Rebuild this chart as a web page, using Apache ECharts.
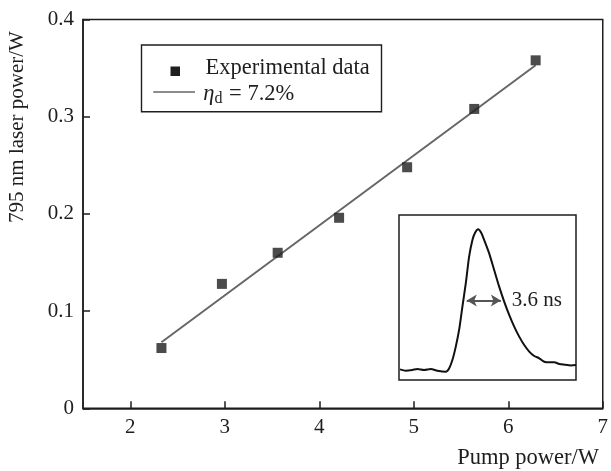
<!DOCTYPE html>
<html>
<head>
<meta charset="utf-8">
<script src="https://cdn.jsdelivr.net/npm/echarts@6/dist/echarts.min.js"></script>
<style>
  html, body { margin: 0; padding: 0; background: #fff; }
  #chart { width: 611px; height: 471px; }
</style>
</head>
<body>
<div id="chart"></div>
<script>
// Measured 795 nm output versus pump power
const pumpPower  = [2.33, 2.97, 3.56, 4.21, 4.93, 5.64, 6.29];
const laserPower = [0.062, 0.128, 0.160, 0.196, 0.248, 0.308, 0.358];

// Linear fit (slope efficiency 7.2%)
const fitPump  = [2.33, 6.29];
const fitLaser = [0.068, 0.353];

// Axis ticks
const xTickValues = [2, 3, 4, 5, 6, 7];
const yTickValues = [0, 0.1, 0.2, 0.3, 0.4];

// Inset: pulse trace (time in ns, normalised intensity)
const pulseTime = [0.11, 0.71, 1.41, 1.94, 2.65, 3.36, 4.06, 4.95, 5.30, 5.65, 6.01, 6.36, 6.71,
  7.07, 7.42, 7.77, 8.05, 8.37, 8.70, 9.01, 9.54, 10.07, 10.60, 11.13, 11.66, 12.19, 12.72,
  13.25, 13.78, 14.31, 14.84, 15.37, 15.90, 16.43, 16.96, 17.49, 18.20, 18.73];
const pulseLevel = [0.016, 0.007, 0.012, 0.019, 0.012, 0.019, 0.007, 0.000, 0.023, 0.082, 0.176,
  0.293, 0.457, 0.621, 0.808, 0.925, 0.975, 1.000, 0.975, 0.925, 0.831, 0.714, 0.597, 0.492,
  0.398, 0.316, 0.246, 0.187, 0.141, 0.110, 0.094, 0.070, 0.066, 0.066, 0.054, 0.049, 0.044, 0.047];
const fwhmBounds = [7.17, 10.78];
const fwhmLevel = 0.5;
const fwhmText = '3.6 ns';

const serif = '"Liberation Serif", "Times New Roman", serif';
const ink = '#1e1e1e';

const chart = echarts.init(document.getElementById('chart'), null, { renderer: 'canvas' });

const option = {
  backgroundColor: '#fff',
  animation: false,
  grid: [
    { left: 83, right: 7, top: 19.5, bottom: 62.7, show: true, borderColor: ink, borderWidth: 1.5,
      backgroundColor: 'transparent' },
    { left: 399, top: 215, width: 177, height: 165, show: true, borderColor: ink, borderWidth: 1.5,
      backgroundColor: '#fff', z: 5 }
  ],
  xAxis: [
    {
      type: 'value', gridIndex: 0, min: 1.5, max: 7,
      axisLine: { show: true, onZero: false, lineStyle: { color: ink, width: 1.5 } },
      axisTick: { show: true, inside: true, length: 7, customValues: xTickValues, lineStyle: { color: ink, width: 1.5 } },
      axisLabel: { customValues: xTickValues, margin: 9, color: ink, fontFamily: serif, fontSize: 21 },
      splitLine: { show: false }
    },
    {
      type: 'value', gridIndex: 1, min: 0, max: 18.73, show: false
    }
  ],
  yAxis: [
    {
      type: 'value', gridIndex: 0, min: 0, max: 0.4, interval: 0.1,
      axisLine: { show: true, lineStyle: { color: ink, width: 1.5 } },
      axisTick: { show: true, inside: true, length: 7, lineStyle: { color: ink, width: 1.5 } },
      axisLabel: { margin: 9, color: ink, fontFamily: serif, fontSize: 21,
        formatter: v => (yTickValues.includes(+v.toFixed(1)) ? String(+v.toFixed(1)) : '') },
      splitLine: { show: false }
    },
    {
      type: 'value', gridIndex: 1, min: -0.0585, max: 1.10, show: false
    }
  ],
  series: [
    {
      name: 'fit', type: 'line', xAxisIndex: 0, yAxisIndex: 0,
      data: fitPump.map((x, i) => [x, fitLaser[i]]),
      showSymbol: false, symbol: 'none',
      lineStyle: { color: '#666', width: 2 }, z: 2
    },
    {
      name: 'Experimental data', type: 'scatter', xAxisIndex: 0, yAxisIndex: 0,
      data: pumpPower.map((x, i) => [x, laserPower[i]]),
      symbol: 'rect', symbolSize: 10,
      itemStyle: { color: ink }, z: 3
    },
    {
      name: 'pulse', type: 'line', xAxisIndex: 1, yAxisIndex: 1,
      data: pulseTime.map((t, i) => [t, pulseLevel[i]]),
      showSymbol: false, symbol: 'none', smooth: 0.25,
      lineStyle: { color: '#111', width: 2 }, z: 6,
      markLine: {
        silent: true, symbol: ['arrow', 'arrow'], symbolSize: [9, 10],
        lineStyle: { color: '#555', width: 1.8, type: 'solid' },
        label: { show: true, position: 'end', distance: 11, formatter: fwhmText,
          color: ink, fontFamily: serif, fontSize: 21 },
        data: [[{ coord: [fwhmBounds[0], fwhmLevel] }, { coord: [fwhmBounds[1], fwhmLevel] }]]
      }
    }
  ],
  graphic: [
    // y axis title
    { type: 'text', x: 17, y: 127, rotation: Math.PI / 2,
      style: { text: '795 nm laser power/W', font: '21px ' + serif, fill: ink,
        align: 'center', verticalAlign: 'middle' } },
    // x axis title
    { type: 'text', x: 599, y: 458,
      style: { text: 'Pump power/W', font: '22.5px ' + serif, fill: ink,
        align: 'right', verticalAlign: 'middle' } },
    // legend frame
    { type: 'rect', shape: { x: 141.5, y: 45, width: 240, height: 66.7 },
      style: { fill: '#fff', stroke: ink, lineWidth: 1.4 }, z: 10 },
    { type: 'rect', shape: { x: 170.5, y: 66.5, width: 9.5, height: 9.5 },
      style: { fill: ink }, z: 11 },
    { type: 'text', x: 205.5, y: 68.5,
      style: { text: 'Experimental data', font: '22.5px ' + serif, fill: ink,
        align: 'left', verticalAlign: 'middle' }, z: 11 },
    { type: 'line', shape: { x1: 153.3, y1: 92, x2: 195, y2: 92 },
      style: { stroke: '#666', lineWidth: 1.6 }, z: 11 },
    { type: 'text', x: 203.3, y: 94,
      style: {
        text: '{e|η}{d|d}{t| = 7.2%}',
        fill: ink, align: 'left', verticalAlign: 'middle',
        rich: {
          e: { fontFamily: serif, fontSize: 22.5, fontStyle: 'italic', fill: ink, lineHeight: 26, verticalAlign: 'middle' },
          d: { fontFamily: serif, fontSize: 16, fill: ink, lineHeight: 26, verticalAlign: 'bottom', padding: [0, 1, 0, 0] },
          t: { fontFamily: serif, fontSize: 22.5, fill: ink, lineHeight: 26, verticalAlign: 'middle' }
        }
      }, z: 11 }
  ]
};

chart.setOption(option);
</script>
</body>
</html>
